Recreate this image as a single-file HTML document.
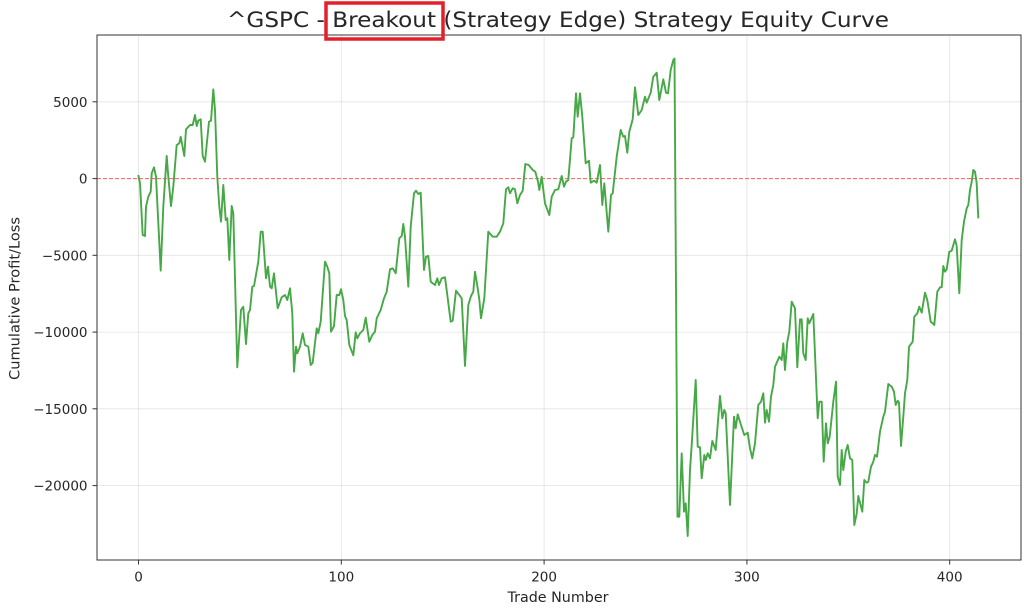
<!DOCTYPE html>
<html><head><meta charset="utf-8"><style>
html,body{margin:0;padding:0;background:#fff;}
svg{display:block;}
text{font-family:"DejaVu Sans","Liberation Sans",sans-serif;fill:#262626;}
</style></head><body>
<svg width="1024" height="613" viewBox="0 0 1024 613" xmlns="http://www.w3.org/2000/svg">
<rect width="1024" height="613" fill="#fff"/>
<!-- grid -->
<g stroke="#b0b0b0" stroke-opacity="0.35" stroke-width="0.8">
<line x1="138.5" y1="35" x2="138.5" y2="560"/>
<line x1="341.3" y1="35" x2="341.3" y2="560"/>
<line x1="544.1" y1="35" x2="544.1" y2="560"/>
<line x1="746.9" y1="35" x2="746.9" y2="560"/>
<line x1="949.7" y1="35" x2="949.7" y2="560"/>
<line x1="97" y1="101.8" x2="1021" y2="101.8"/>
<line x1="97" y1="255.3" x2="1021" y2="255.3"/>
<line x1="97" y1="332.1" x2="1021" y2="332.1"/>
<line x1="97" y1="408.8" x2="1021" y2="408.8"/>
<line x1="97" y1="485.6" x2="1021" y2="485.6"/>
</g>
<!-- zero line -->
<line x1="97" y1="178.6" x2="1021" y2="178.6" stroke="#ff3030" stroke-opacity="0.8" stroke-width="1" stroke-dasharray="4,2"/>
<!-- curve -->
<polyline fill="none" stroke="#46a846" stroke-width="1.9" stroke-linejoin="round" points="
138.3,175 140,183.3 142.7,235 145,236 146,206.7 148.3,196.7 150.7,191.7 151.7,173.3 154,167.3 156,176.7 160.7,270.7 163.3,206.7 166.7,156 168.3,176.7 171,206 173.3,186.7 176.7,145 179.3,143.3 180.7,136.7 184.3,156 186,129.3 190,125 192.7,125 195,115 196.7,126 198.3,120.7 200.7,119.3 202.7,156 205,161.7 209,121.7 211,120.7 213.3,89.3 215,110 217.3,176.7 219.3,206.7 221,221.7 223.3,185 225.7,220 227.3,218.3 229.3,260 231.7,206 233.3,213.3 237.3,367.3 241,310 243.3,306.7 246,344 248.3,313.3 250,310 252.3,286.7 254,286 258.3,261.7 260.7,231.7 262.7,231.7 266,278.3 268,266.7 270,286.7 271.7,288.3 274,273.3 277.7,308.3 281.7,297.3 285,295 287.3,300 290,288.3 292.3,313.3 294,371.7 296,346.7 297.3,353.3 300,346.7 302.7,333.3 305,345 308.3,346.7 310.7,365 312.7,362.7 316.7,328.3 318.3,333.3 320.7,321.7 325,261.7 327.3,266.7 329.3,273.3 331,331.7 334,326 336.7,295 339.3,295 341,289.3 343.3,300 345,316 346.7,320 349.3,345 353.3,355.3 355.7,332.3 357.3,338.3 360,333.3 363.3,330 365.7,317.7 369.3,341.7 372.3,335 375,331.7 376.7,318.3 380.7,310 384,298.3 386.7,291.7 390,269.3 392.7,268.3 395.7,273.3 399.3,238.3 401.7,236 403.3,224 405,236.7 408.3,286.7 410.7,226.7 414,193.3 416,190.7 418.3,194 420.7,192.7 424,270 426,256.7 428.3,256 430.7,281.7 435,285 437.3,278.3 439,285 441.7,278.3 445,277.3 447.3,295 450.7,321.7 452.7,320.7 456,290.7 459.3,295 461.7,298.3 465,366 468.3,305 471,296 473.3,291.7 475,271.7 477.7,288.3 479.3,299.3 481,318.3 484.3,298.3 488.3,231.7 492.7,236.7 496.7,236.7 500,231.7 503.3,223.3 506,189.3 508.3,187.3 510,193.3 512.7,188.3 515,189.3 517.3,203.3 520,195 522.7,190.7 525.3,164 528.7,165 532.7,170 535.3,171.7 538,181.7 539.3,190 541.7,176.7 545,203.3 549.3,215 551.7,196.7 555,190 558.3,189.3 561.7,176 564,186.7 566,181.7 568.3,180 571.7,138.3 573.3,137.3 576,93.3 577.7,116.7 580,93.3 582.3,116.7 585.7,163.3 589,160.7 590.7,182.7 594,180.7 596.7,182.7 600,165 602.3,205 604.3,183.3 608.3,231.7 611,195 612.7,193.3 616.7,156.7 620.7,130 623.3,136.7 625,136 627.3,152.7 629.3,131.7 632.7,119.3 635,87.3 638.3,115 641.7,110 645,96.7 646.7,102.7 650.7,92.7 653.3,76.7 656.7,72.7 659.3,100 663.3,79.3 666,92.7 668,93.3 670.7,70 673.3,60 674.5,58.5 677.5,516.7 679.3,516.7 681.7,453.3 684,511.7 685.7,503.3 687.7,536 690,470 691.7,445 695.7,380 697.7,446.7 700,447.3 701.7,478.3 704.3,455 705.7,460 707.7,453.3 710,458.3 712.3,441 715.7,450 720,396 722.3,418.3 724.3,410 725.7,413.3 730,505 734,416.7 735.7,428.3 737.7,414.3 741,425 744.3,435 747.7,432.7 750,448.3 752.3,458.3 755,443.3 758.3,405 761,401.7 763.3,393.3 765,422.7 766.7,410 769,421.7 771,396.7 773.3,385 775,366.7 779.3,356.7 781.7,360 783.3,343.3 785,370 787.3,341.7 789.3,331.7 791.7,301.7 795,308.3 797.3,367.3 800,319.3 801.7,319.3 803.3,353.3 805.7,360 807.7,318.3 809.3,323.3 813.3,314 817.7,418.3 819.3,401.7 821.7,401.7 823.7,461.7 826,423.3 827.7,443.3 829.7,436.7 833.3,401.7 836,381.7 837.7,476.7 840,485 841.7,450 843.3,470 845.7,451.7 847.7,445 850,458.3 852.3,460 854.3,525 856.7,513.3 858.3,496 861,506.7 862.3,511.7 864.3,480 866.7,482.7 868.3,481.7 871,466.7 873.3,461.7 875,455 877,456.7 880,431.7 883.3,416.7 885,411.7 888.3,384 891.7,386.7 894,391.7 895.7,405 897.7,400.7 899,402.7 901,446 903.3,416.7 905,393.3 907.3,380 909,346.7 912.7,341.7 914.3,316.7 917.3,313.3 919.3,306.7 921.7,312.7 925,292.7 927.3,300 930.7,321.7 932.7,323.3 934.3,325 937.3,291.7 940,287.3 941.7,287.3 943.3,266 945,271.7 946.7,269.3 949.3,251.7 951.7,250.7 955,239.3 956.7,246 959.3,293.3 961.7,240 964,221.7 966.7,208.3 968.3,205 970,190 971.7,181.7 973.3,170 975,171.7 976.7,183.3 978.3,218.3"/>
<!-- frame -->
<rect x="97" y="35" width="924" height="525" fill="none" stroke="#333" stroke-width="1"/>
<!-- ticks -->
<g stroke="#333" stroke-width="1">
<line x1="138.5" y1="560" x2="138.5" y2="564.5"/>
<line x1="341.3" y1="560" x2="341.3" y2="564.5"/>
<line x1="544.1" y1="560" x2="544.1" y2="564.5"/>
<line x1="746.9" y1="560" x2="746.9" y2="564.5"/>
<line x1="949.7" y1="560" x2="949.7" y2="564.5"/>
<line x1="92.5" y1="101.8" x2="97" y2="101.8"/>
<line x1="92.5" y1="178.6" x2="97" y2="178.6"/>
<line x1="92.5" y1="255.3" x2="97" y2="255.3"/>
<line x1="92.5" y1="332.1" x2="97" y2="332.1"/>
<line x1="92.5" y1="408.8" x2="97" y2="408.8"/>
<line x1="92.5" y1="485.6" x2="97" y2="485.6"/>
</g>
<g font-size="13.5" text-anchor="middle">
<text x="138.5" y="581.5">0</text>
<text x="341.3" y="581.5">100</text>
<text x="544.1" y="581.5">200</text>
<text x="746.9" y="581.5">300</text>
<text x="949.7" y="581.5">400</text>
</g>
<g font-size="13.5" text-anchor="end">
<text x="87.5" y="106.8">5000</text>
<text x="87.5" y="183.6">0</text>
<text x="87.5" y="260.3">−5000</text>
<text x="87.5" y="337.1">−10000</text>
<text x="87.5" y="413.8">−15000</text>
<text x="87.5" y="490.6">−20000</text>
</g>
<text x="507.5" y="602" font-size="14" textLength="101" lengthAdjust="spacingAndGlyphs">Trade Number</text>
<text transform="translate(19.5,380) rotate(-90)" font-size="14" textLength="163" lengthAdjust="spacingAndGlyphs">Cumulative Profit/Loss</text>
<text x="227" y="27" font-size="21.5" textLength="662" lengthAdjust="spacingAndGlyphs">^GSPC - Breakout (Strategy Edge) Strategy Equity Curve</text>
<rect x="326" y="3" width="117" height="36" fill="none" stroke="#e3202a" stroke-width="3.5"/>
</svg>
</body></html>
